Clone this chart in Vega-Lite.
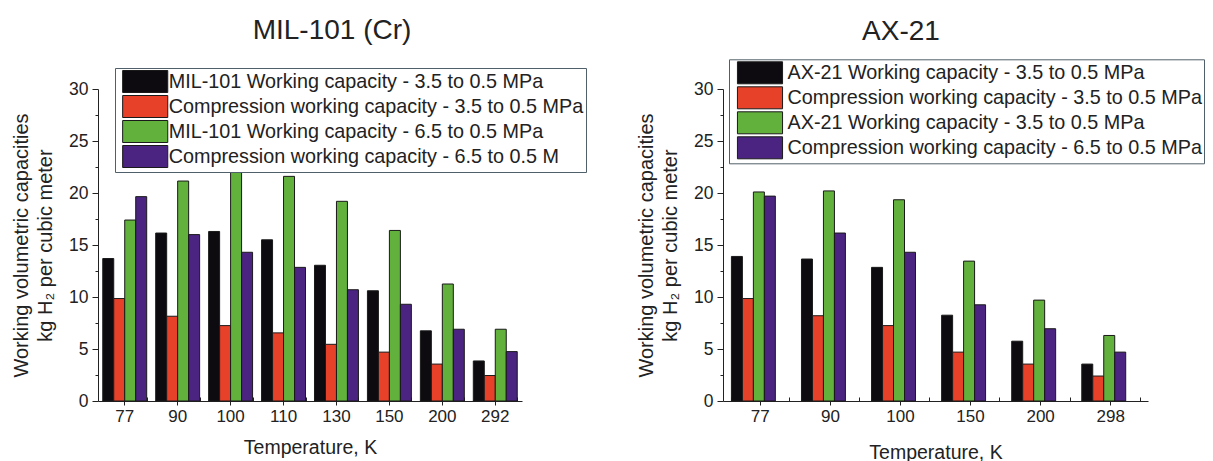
{
  "$schema": "https://vega.github.io/schema/vega-lite/v6.json",
  "autosize": {"type": "none"},
  "padding": {"left": 98, "top": 89, "right": 1115, "bottom": 372},
  "background": "white",
  "config": {
    "font": "Liberation Sans",
    "view": {"stroke": null},
    "axis": {"labelColor": "#222", "domainColor": "#222", "tickColor": "#222", "titleColor": "#222", "labelFont": "Liberation Sans", "titleFont": "Liberation Sans", "grid": false},
    "title": {"color": "#222", "font": "Liberation Sans"},
    "legend": {"labelColor": "#222", "labelFont": "Liberation Sans"}
  },
  "datasets": {
    "mil": [
      {"T": "77", "s": "s1", "v": 13.7}, {"T": "77", "s": "s2", "v": 9.85}, {"T": "77", "s": "s3", "v": 17.4}, {"T": "77", "s": "s4", "v": 19.65},
      {"T": "90", "s": "s1", "v": 16.15}, {"T": "90", "s": "s2", "v": 8.15}, {"T": "90", "s": "s3", "v": 21.15}, {"T": "90", "s": "s4", "v": 16.0},
      {"T": "100", "s": "s1", "v": 16.3}, {"T": "100", "s": "s2", "v": 7.25}, {"T": "100", "s": "s3", "v": 22.0}, {"T": "100", "s": "s4", "v": 14.3},
      {"T": "110", "s": "s1", "v": 15.5}, {"T": "110", "s": "s2", "v": 6.55}, {"T": "110", "s": "s3", "v": 21.6}, {"T": "110", "s": "s4", "v": 12.85},
      {"T": "130", "s": "s1", "v": 13.05}, {"T": "130", "s": "s2", "v": 5.45}, {"T": "130", "s": "s3", "v": 19.2}, {"T": "130", "s": "s4", "v": 10.7},
      {"T": "150", "s": "s1", "v": 10.6}, {"T": "150", "s": "s2", "v": 4.7}, {"T": "150", "s": "s3", "v": 16.4}, {"T": "150", "s": "s4", "v": 9.3},
      {"T": "200", "s": "s1", "v": 6.75}, {"T": "200", "s": "s2", "v": 3.55}, {"T": "200", "s": "s3", "v": 11.25}, {"T": "200", "s": "s4", "v": 6.9},
      {"T": "292", "s": "s1", "v": 3.85}, {"T": "292", "s": "s2", "v": 2.45}, {"T": "292", "s": "s3", "v": 6.9}, {"T": "292", "s": "s4", "v": 4.75}
    ],
    "ax": [
      {"T": "77", "s": "s1", "v": 13.9}, {"T": "77", "s": "s2", "v": 9.85}, {"T": "77", "s": "s3", "v": 20.1}, {"T": "77", "s": "s4", "v": 19.7},
      {"T": "90", "s": "s1", "v": 13.65}, {"T": "90", "s": "s2", "v": 8.2}, {"T": "90", "s": "s3", "v": 20.2}, {"T": "90", "s": "s4", "v": 16.15},
      {"T": "100", "s": "s1", "v": 12.85}, {"T": "100", "s": "s2", "v": 7.25}, {"T": "100", "s": "s3", "v": 19.35}, {"T": "100", "s": "s4", "v": 14.3},
      {"T": "150", "s": "s1", "v": 8.25}, {"T": "150", "s": "s2", "v": 4.7}, {"T": "150", "s": "s3", "v": 13.45}, {"T": "150", "s": "s4", "v": 9.25},
      {"T": "200", "s": "s1", "v": 5.75}, {"T": "200", "s": "s2", "v": 3.55}, {"T": "200", "s": "s3", "v": 9.7}, {"T": "200", "s": "s4", "v": 6.95},
      {"T": "298", "s": "s1", "v": 3.55}, {"T": "298", "s": "s2", "v": 2.4}, {"T": "298", "s": "s3", "v": 6.3}, {"T": "298", "s": "s4", "v": 4.7}
    ]
  },
  "bounds": "flush",
  "spacing": 201,
  "resolve": {"scale": {"color": "independent", "x": "independent"}, "legend": {"color": "independent"}},
  "hconcat": [
    {
      "data": {"name": "mil"},
      "width": 424,
      "height": 312,
      "title": {"text": "MIL-101 (Cr)", "fontSize": 28, "fontWeight": "normal", "anchor": "middle", "frame": "group", "dx": 22, "offset": -283},
      "resolve": {"axis": {"x": "independent", "y": "independent"}},
      "layer": [
        {
          "mark": {"type": "bar", "stroke": "#1a1a1a", "strokeWidth": 1},
          "encoding": {
            "x": {"field": "T", "type": "ordinal", "sort": ["77", "90", "100", "110", "130", "150", "200", "292"],
              "scale": {"paddingInner": 0.17, "paddingOuter": 0.09},
              "axis": {"title": "Temperature, K", "labelAngle": 0, "tickSize": 4, "labelFontSize": 17, "labelPadding": 3, "titleFontSize": 19.5, "titleFontWeight": "normal", "titlePadding": 14}},
            "xOffset": {"field": "s", "sort": ["s1", "s2", "s3", "s4"], "scale": {"paddingInner": 0, "paddingOuter": 0}},
            "y": {"field": "v", "type": "quantitative", "scale": {"domain": [0, 30], "nice": false},
              "axis": {"values": [0, 5, 10, 15, 20, 25, 30], "tickSize": 6, "labelFontSize": 17.5, "labelPadding": 4,
                "title": ["Working volumetric capacities", "kg H₂ per cubic meter"], "titleFontSize": 20, "titleFontWeight": "normal", "titlePadding": 13, "titleLineHeight": 24}},
            "color": {"field": "s", "type": "nominal",
              "scale": {"domain": ["s1", "s2", "s3", "s4"], "range": ["#0d0b10", "#e8412a", "#62b13d", "#4a2480"]},
              "legend": {"orient": "none", "legendX": 17, "legendY": -21, "title": null,
                "symbolType": "M-2.05,-1H2.05V1H-2.05Z", "symbolSize": 484, "symbolStrokeColor": "#1a1a1a", "symbolStrokeWidth": 1, "symbolOpacity": 1,
                "symbolOffset": 16.7, "labelOffset": 12, "labelFontSize": 19.8, "labelLimit": 1000, "rowPadding": -4.3, "padding": 2,
                "strokeColor": "#50606a", "fillColor": "white",
                "labelExpr": "datum.value == 's1' ? 'MIL-101 Working capacity - 3.5 to 0.5 MPa' : datum.value == 's2' ? 'Compression working capacity - 3.5 to 0.5 MPa' : datum.value == 's3' ? 'MIL-101 Working capacity - 6.5 to 0.5 MPa' : 'Compression working capacity - 6.5 to 0.5 M'"}}
          }
        },
        {
          "mark": {"type": "bar", "opacity": 0},
          "encoding": {
            "x": {"field": "T", "type": "ordinal", "sort": ["77", "90", "100", "110", "130", "150", "200", "292"],
              "axis": {"orient": "bottom", "tickBand": "extent", "tickSize": -4, "labels": false, "domain": false, "title": null}},
            "y": {"field": "v", "type": "quantitative",
              "axis": {"orient": "left", "values": [2.5, 7.5, 12.5, 17.5, 22.5, 27.5], "tickSize": 3, "labels": false, "domain": false, "title": null}}
          }
        }
      ]
    },
    {
      "data": {"name": "ax"},
      "width": 425,
      "height": 312,
      "title": {"text": "AX-21", "fontSize": 28, "fontWeight": "normal", "anchor": "middle", "frame": "group", "dx": -34.5, "offset": -306},
      "resolve": {"axis": {"x": "independent", "y": "independent"}},
      "layer": [
        {
          "mark": {"type": "bar", "stroke": "#1a1a1a", "strokeWidth": 1},
          "encoding": {
            "x": {"field": "T", "type": "ordinal", "sort": ["77", "90", "100", "150", "200", "298"],
              "scale": {"paddingInner": 0.175, "paddingOuter": 0.12},
              "axis": {"title": "Temperature, K", "labelAngle": 0, "tickSize": 4, "labelFontSize": 17, "labelPadding": 3, "titleFontSize": 19.5, "titleFontWeight": "normal", "titlePadding": 19}},
            "xOffset": {"field": "s", "sort": ["s1", "s2", "s3", "s4"], "scale": {"paddingInner": 0, "paddingOuter": 0}},
            "y": {"field": "v", "type": "quantitative", "scale": {"domain": [0, 30], "nice": false},
              "axis": {"values": [0, 5, 10, 15, 20, 25, 30], "tickSize": 6, "labelFontSize": 17.5, "labelPadding": 4,
                "title": ["Working volumetric capacities", "kg H₂ per cubic meter"], "titleFontSize": 20, "titleFontWeight": "normal", "titlePadding": 13, "titleLineHeight": 24}},
            "color": {"field": "s", "type": "nominal",
              "scale": {"domain": ["s1", "s2", "s3", "s4"], "range": ["#0d0b10", "#e8412a", "#62b13d", "#4a2480"]},
              "legend": {"orient": "none", "legendX": 6, "legendY": -29.7, "title": null,
                "symbolType": "M-2.05,-1H2.05V1H-2.05Z", "symbolSize": 484, "symbolStrokeColor": "#1a1a1a", "symbolStrokeWidth": 1, "symbolOpacity": 1,
                "symbolOffset": 17.5, "labelOffset": 16, "labelFontSize": 19.8, "labelLimit": 1000, "rowPadding": -4.3, "padding": 2,
                "strokeColor": "#50606a", "fillColor": "white",
                "labelExpr": "datum.value == 's1' ? 'AX-21 Working capacity - 3.5 to 0.5 MPa' : datum.value == 's2' ? 'Compression working capacity - 3.5 to 0.5 MPa' : datum.value == 's3' ? 'AX-21 Working capacity - 3.5 to 0.5 MPa' : 'Compression working capacity - 6.5 to 0.5 MPa'"}}
          }
        },
        {
          "mark": {"type": "bar", "opacity": 0},
          "encoding": {
            "x": {"field": "T", "type": "ordinal", "sort": ["77", "90", "100", "150", "200", "298"],
              "axis": {"orient": "bottom", "tickBand": "extent", "tickSize": -4, "labels": false, "domain": false, "title": null}},
            "y": {"field": "v", "type": "quantitative",
              "axis": {"orient": "left", "values": [2.5, 7.5, 12.5, 17.5, 22.5, 27.5], "tickSize": 3, "labels": false, "domain": false, "title": null}}
          }
        }
      ]
    }
  ]
}
